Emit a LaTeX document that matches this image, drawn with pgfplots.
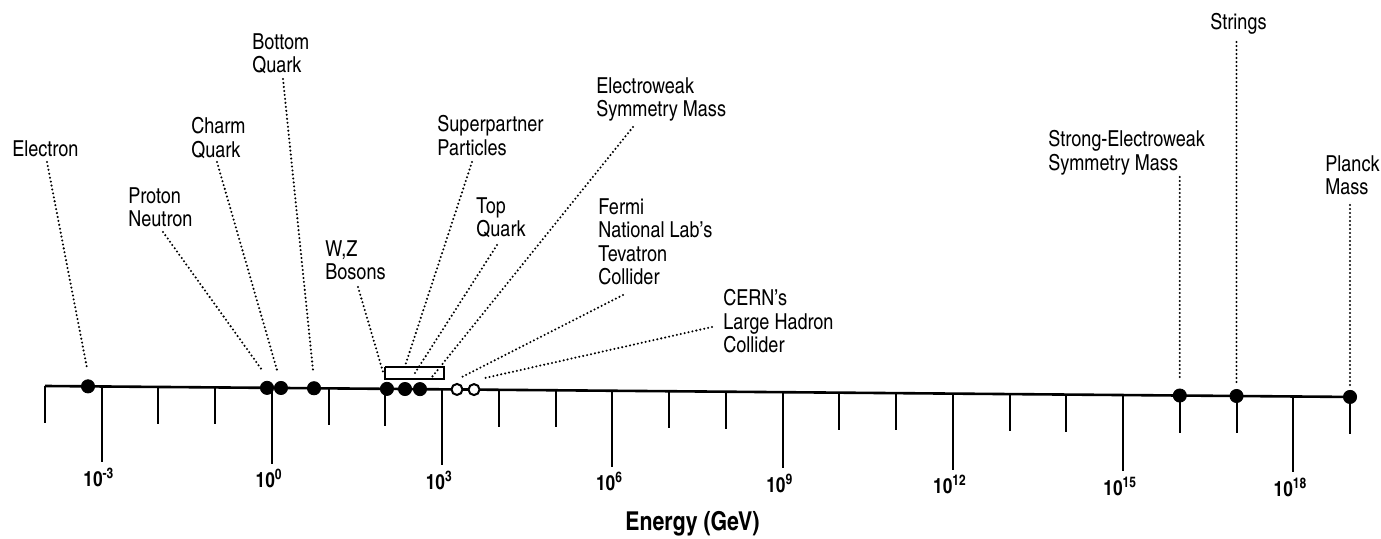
\documentclass[border=0pt]{standalone}
\usepackage{pgfplots}
\pgfplotsset{compat=1.18}
\usepackage{fontspec}
\setmainfont{TeX Gyre Heros Cn}
\tikzset{
  lbl/.style={font=\fontsize{11}{11.8}\selectfont, align=left, inner sep=0pt, anchor=north west},
  tl/.style={font=\bfseries\fontsize{10.5}{12}\selectfont, inner sep=0pt, anchor=center},
  leader/.style={black, line width=1.15pt, line cap=round, dash pattern=on 0pt off 2pt},
}
\begin{document}
\begin{tikzpicture}
\begin{axis}[
  scale only axis, width=690.5pt, height=269.5pt,
  xmin=-4.793, xmax=19.546, ymin=0, ymax=539,
  hide axis, clip=false,
  unbounded coords=jump,
]
% baseline (slightly tilted as in the scan)
\addplot[black, line width=1.3pt, line cap=butt] coordinates {(-4,153) (19,142.04)};
% short ticks
\addplot[black, line width=1pt] coordinates {
(-4,153.00) (-4,116.00) (-4,nan)
(-2,152.05) (-2,115.05) (-2,nan)
(-1,151.57) (-1,114.57) (-1,nan)
(1,150.62) (1,113.62) (1,nan)
(2,150.14) (2,113.14) (2,nan)
(4,149.19) (4,112.19) (4,nan)
(5,148.71) (5,111.71) (5,nan)
(7,147.76) (7,110.76) (7,nan)
(8,147.28) (8,110.28) (8,nan)
(10,146.33) (10,109.33) (10,nan)
(11,145.85) (11,108.85) (11,nan)
(13,144.90) (13,107.90) (13,nan)
(14,144.42) (14,107.42) (14,nan)
(16,143.47) (16,106.47) (16,nan)
(17,142.99) (17,105.99) (17,nan)
(19,142.04) (19,105.04)
};
% long ticks
\addplot[black, line width=1pt] coordinates {
(-3,152.52) (-3,76.52) (-3,nan)
(0,151.09) (0,75.09) (0,nan)
(3,149.66) (3,73.66) (3,nan)
(6,148.23) (6,72.23) (6,nan)
(9,146.81) (9,70.81) (9,nan)
(12,145.38) (12,69.38) (12,nan)
(15,143.95) (15,67.95) (15,nan)
(18,142.52) (18,66.52)
};
% tick labels
\node[tl] at (axis cs:-3.05,61.5) {10\textsuperscript{-3}};
\node[tl] at (axis cs:-0.05,60.1) {10\textsuperscript{0}};
\node[tl] at (axis cs:2.95,58.7) {10\textsuperscript{3}};
\node[tl] at (axis cs:5.95,57.2) {10\textsuperscript{6}};
\node[tl] at (axis cs:8.95,55.8) {10\textsuperscript{9}};
\node[tl] at (axis cs:11.95,54.4) {10\textsuperscript{12}};
\node[tl] at (axis cs:14.95,52.9) {10\textsuperscript{15}};
\node[tl] at (axis cs:17.95,51.5) {10\textsuperscript{18}};
\node[font=\bfseries\fontsize{13}{15}\selectfont, inner sep=0pt, anchor=base] at (axis cs:7.41,8) {Energy (GeV)};
% box around superpartner / top / electroweak region
\addplot[black, line width=0.6pt] coordinates {(1.992,172) (3.032,172) (3.032,160) (1.992,160) (1.992,172)};
% leader lines
\addplot[leader] coordinates {(-3.965,377) (-3.260,171)};
\addplot[leader] coordinates {(-1.920,307) (-0.176,169)};
\addplot[leader] coordinates {(-0.969,377) (0.089,169)};
\addplot[leader] coordinates {(0.195,460) (0.723,169)};
\addplot[leader] coordinates {(1.516,252) (1.957,167)};
\addplot[leader] coordinates {(3.526,377) (2.345,173)};
\addplot[leader] coordinates {(3.966,294) (2.486,163)};
\addplot[leader] coordinates {(6.363,412) (2.821,162)};
\addplot[leader] coordinates {(6.187,244) (3.349,162)};
\addplot[leader] coordinates {(7.755,212) (3.755,161)};
\addplot[leader] coordinates {(16,362) (16,159)};
\addplot[leader] coordinates {(17,497) (17,156)};
\addplot[leader] coordinates {(19,334) (19,151)};
% filled points
\addplot[only marks, mark=*, mark size=3.3pt, black] coordinates {
(-3.242,152.64) (-0.087,151.14) (0.159,151.02) (0.741,150.74)
(2.027,150.13) (2.345,149.98) (2.609,149.85)
(16,143.47) (17,142.99) (19,142.04)
};
% open points (colliders)
\addplot[only marks, mark=*, mark size=2.75pt, draw=black, fill=white, line width=1pt] coordinates {
(3.261,149.54) (3.561,149.40)
};
% labels
\node[lbl] at (axis cs:-4.582,399) {Electron};
\node[lbl] at (axis cs:-2.537,352) {Proton\\Neutron};
\node[lbl] at (axis cs:-1.427,422) {Charm\\Quark};
\node[lbl] at (axis cs:-0.352,506) {Bottom\\Quark};
\node[lbl] at (axis cs:0.935,299) {W,Z\\Bosons};
\node[lbl] at (axis cs:2.909,424) {Superpartner\\Particles};
\node[lbl] at (axis cs:3.596,342) {Top\\Quark};
\node[lbl] at (axis cs:5.711,462) {Electroweak\\Symmetry Mass};
\node[lbl] at (axis cs:5.746,341) {Fermi\\National Lab’s\\Tevatron\\Collider};
\node[lbl] at (axis cs:7.949,250) {CERN’s\\Large Hadron\\Collider};
\node[lbl] at (axis cs:13.677,409) {Strong-Electroweak\\Symmetry Mass};
\node[lbl] at (axis cs:16.532,526) {Strings};
\node[lbl] at (axis cs:18.559,384) {Planck\\Mass};
\end{axis}
\pgfresetboundingbox
\path (current axis.south west) rectangle (current axis.north east);
\end{tikzpicture}
\end{document}
